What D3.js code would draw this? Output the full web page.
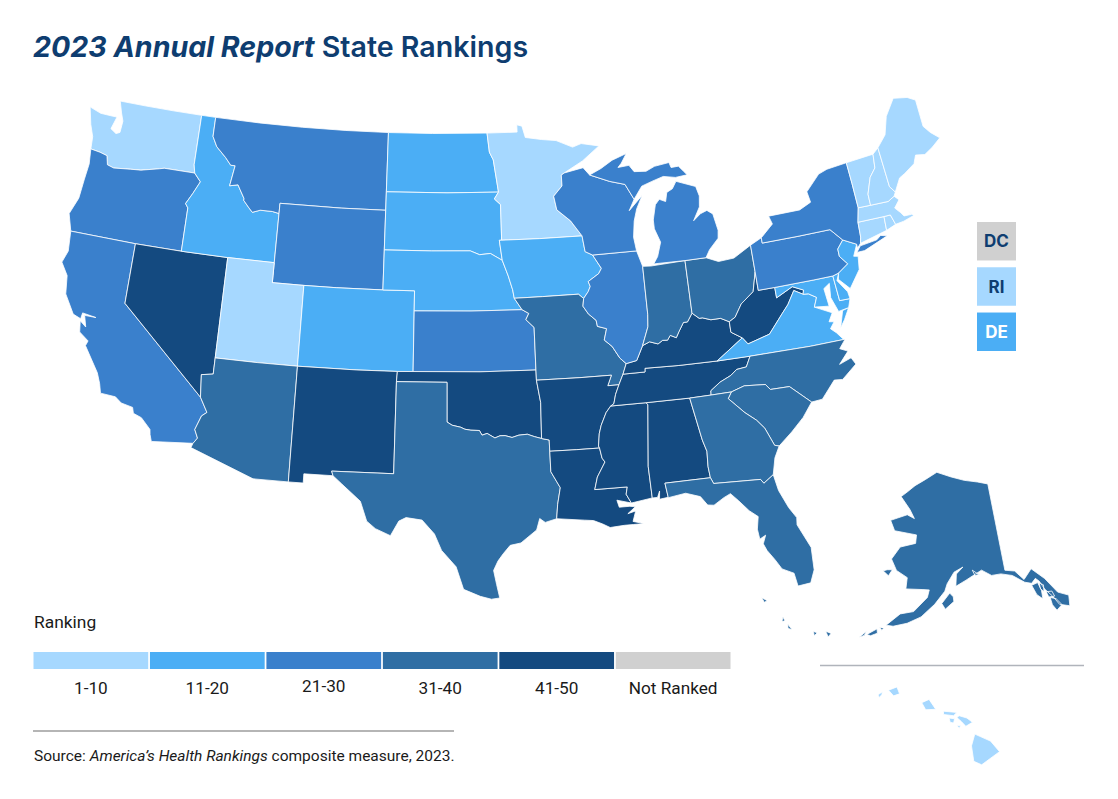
<!DOCTYPE html>
<html><head><meta charset="utf-8">
<script src="https://cdnjs.cloudflare.com/ajax/libs/d3/7.8.5/d3.min.js"></script>
<style>html,body{margin:0;background:#fff}svg{display:block}</style></head>
<body><svg id="c" width="1118" height="799"></svg>
<script>
// Rank groups
const band1 = ["WA","UT","MN","ME","VT","NH","MA","CT","HI","RI"];
const band2 = ["ID","ND","SD","NE","CO","IA","NJ","VA","MD","DE"];
const band3 = ["OR","CA","MT","WY","KS","WI","IL","MI","NY","PA"];
const band4 = ["AZ","TX","MO","IN","OH","NC","SC","GA","FL","AK"];
const band5 = ["NV","NM","OK","AR","LA","MS","AL","TN","KY","WV"];
const legendLabels = ["1-10","11-20","21-30","31-40","41-50","Not Ranked"];
const legendColors = ["#a6d8ff","#4baef5","#3a80cc","#2f6ea4","#144a80","#d0d0d0"];
const sideBoxes = ["DC","RI","DE"];
const sideBands = ["Not Ranked","1-10","11-20"];

// State outlines: lon,lat rings
const WA=[[-124.7,48.38,-123.9,48.17,-123.1,48.15,-122.75,48.15,-123,47.5,-122.6,47.3,-122.35,47.4,-122.3,48,-122.5,48.4,-122.75,49,-121,49,-119,49,-117.03,49,-117.04,46.42,-116.92,46,-118.98,46,-119.3,45.93,-120.5,45.7,-121.2,45.65,-122.3,45.55,-122.75,45.65,-122.9,46.1,-123.4,46.2,-124.05,46.27,-124.1,46.9,-124.4,47.5]];
const OR=[[-124.05,46.27,-123.4,46.2,-122.9,46.1,-122.75,45.65,-122.3,45.55,-121.2,45.65,-120.5,45.7,-119.3,45.93,-118.98,46,-116.92,46,-116.46,45.6,-116.85,44.95,-117.22,44.4,-117.03,44.2,-117.03,42,-120,42,-124.21,42,-124.55,42.84,-124.15,43.7,-124.05,44.7,-123.95,45.5]];
const CA=[[-124.21,42,-120,42,-120,39,-114.63,35,-114.14,34.3,-114.43,34.1,-114.72,33.4,-114.5,33,-114.72,32.72,-117.12,32.53,-117.25,32.85,-117.3,33.1,-117.9,33.6,-118.4,33.75,-118.5,34.03,-119.2,34.15,-119.6,34.4,-120.5,34.45,-120.65,34.9,-120.9,35.4,-121.9,36.6,-121.8,36.85,-122.4,37.2,-122.5,37.75,-122.1,37.5,-122.3,38.05,-121.6,38.05,-122.45,38.15,-122.5,37.85,-123,38,-123.7,38.9,-123.85,39.8,-124.35,40.4,-124.1,41]];
const NV=[[-120,42,-117.03,42,-114.04,42,-114.05,37,-114.05,36.2,-114.75,36.1,-114.63,35,-120,39]];
const ID=[[-117.03,49,-116.05,49,-116.05,48,-115.7,47.5,-115,47,-114.6,46.65,-114.3,46.65,-114.5,45.6,-113.95,45.7,-113.8,45.5,-113.45,45.05,-113.45,44.95,-113.05,44.6,-112.8,44.4,-112.3,44.55,-111.5,44.55,-111.05,44.48,-111.05,42,-114.04,42,-117.03,42,-117.03,44.2,-117.22,44.4,-116.85,44.95,-116.46,45.6,-116.92,46,-117.04,46.42]];
const MT=[[-116.05,49,-113,49,-110,49,-107,49,-104.05,49,-104.05,47,-104.05,45,-107,45,-111.05,45,-111.05,44.48,-111.5,44.55,-112.3,44.55,-112.8,44.4,-113.05,44.6,-113.45,44.95,-113.45,45.05,-113.8,45.5,-113.95,45.7,-114.5,45.6,-114.3,46.65,-114.6,46.65,-115,47,-115.7,47.5,-116.05,48]];
const WY=[[-111.05,45,-107,45,-104.05,45,-104.05,43,-104.05,41,-107,41,-109.05,41,-111.05,41,-111.05,42]];
const UT=[[-114.04,42,-111.05,42,-111.05,41,-109.05,41,-109.05,37,-111.5,37,-114.05,37]];
const CO=[[-109.05,41,-107,41,-104.05,41,-102.05,41,-102.05,40,-102.05,37,-103,37,-105.5,37,-109.05,37]];
const AZ=[[-114.05,37,-111.5,37,-109.05,37,-109.05,31.33,-111.07,31.33,-114.81,32.5,-114.72,32.72,-114.5,33,-114.72,33.4,-114.43,34.1,-114.14,34.3,-114.63,35,-114.75,36.1,-114.05,36.2]];
const NM=[[-109.05,37,-105.5,37,-103,37,-103.04,36.5,-103.06,32,-106.62,32,-106.53,31.78,-108.2,31.78,-108.2,31.33,-109.05,31.33]];
const ND=[[-104.05,49,-101,49,-97.23,49,-97.1,48,-96.85,47.6,-96.56,45.94,-100,45.94,-104.05,45.94]];
const SD=[[-104.05,45.94,-100,45.94,-96.56,45.94,-96.85,45.6,-96.45,45.3,-96.45,43.5,-96.6,43.5,-96.45,42.49,-97.2,42.85,-97.9,42.8,-98.5,43,-101,43,-104.05,43]];
const NE=[[-104.05,43,-101,43,-98.5,43,-97.9,42.8,-97.2,42.85,-96.45,42.49,-96.1,41.7,-95.85,41,-95.77,40.58,-95.31,40,-98.5,40,-102.05,40,-102.05,41,-104.05,41]];
const KS=[[-102.05,40,-98.5,40,-95.31,40,-94.9,39.8,-95.1,39.5,-94.61,39.1,-94.62,37,-98,37,-102.05,37]];
const OK=[[-103,37,-98,37,-94.62,37,-94.62,36.5,-94.43,35.4,-94.48,33.64,-94.9,33.75,-95.3,33.88,-95.8,33.85,-96.2,33.75,-96.6,33.85,-96.9,33.85,-97.2,33.75,-97.65,33.98,-97.95,33.9,-98.1,34.13,-98.6,34.15,-98.95,34.2,-99.2,34.3,-99.7,34.4,-100,34.56,-100,36.5,-103.04,36.5]];
const TX=[[-106.62,32,-103.06,32,-103.04,36.5,-100,36.5,-100,34.56,-99.7,34.4,-99.2,34.3,-98.95,34.2,-98.6,34.15,-98.1,34.13,-97.95,33.9,-97.65,33.98,-97.2,33.75,-96.9,33.85,-96.6,33.85,-96.2,33.75,-95.8,33.85,-95.3,33.88,-94.9,33.75,-94.48,33.64,-94.04,33.55,-94.04,33,-94.04,32,-93.55,31.2,-93.75,30.4,-93.85,29.7,-94.5,29.55,-94.8,29.75,-95,29.2,-95.9,28.6,-96.5,28.5,-96.9,28.1,-97.2,27.75,-97.45,27.3,-97.3,26.6,-97.15,25.95,-97.6,25.9,-98.2,26.05,-99.1,26.4,-99.5,27.5,-100.3,28.3,-100.7,29.1,-101.4,29.77,-102.3,29.88,-102.7,29.7,-103.15,28.98,-104,29.3,-104.5,29.65,-104.9,30.6,-106,31.4,-106.53,31.78]];
const MN=[[-97.23,49,-95.15,49,-95.15,49.38,-94.8,49.3,-94.6,48.7,-93.5,48.55,-92.5,48.45,-91.4,48.05,-90.8,48.2,-89.6,48,-90.8,47.3,-92.1,46.75,-92.3,46.65,-92.3,46.1,-92.9,45.6,-92.75,44.9,-91.9,44.3,-91.22,43.5,-94,43.5,-96.45,43.5,-96.45,45.3,-96.85,45.6,-96.56,45.94,-96.85,47.6,-97.1,48]];
const IA=[[-96.6,43.5,-96.45,43.5,-94,43.5,-91.22,43.5,-91.1,42.7,-90.64,42.5,-90.15,41.8,-90.35,41.55,-91.05,41.2,-90.95,40.95,-91.1,40.7,-91.42,40.38,-91.73,40.61,-94,40.6,-95.77,40.58,-95.85,41,-96.1,41.7,-96.45,42.49]];
const MO=[[-95.77,40.58,-94,40.6,-91.73,40.61,-91.42,40.38,-91.5,40,-91.2,39.6,-90.75,39.25,-90.7,38.95,-90.15,38.8,-90.35,38.25,-89.9,37.9,-89.5,37.3,-89.15,37,-89.4,36.5,-89.7,36,-90.37,36,-90.1,36.5,-92,36.5,-94.62,36.5,-94.62,37,-94.61,39.1,-95.1,39.5,-94.9,39.8,-95.31,40]];
const AR=[[-94.62,36.5,-92,36.5,-90.1,36.5,-90.37,36,-89.7,36,-89.95,35.55,-90.1,35.1,-90.3,35,-90.6,34.7,-90.95,34.1,-91.1,33.7,-91.2,33.1,-91.15,33,-92.5,33,-94.04,33,-94.04,33.55,-94.48,33.64,-94.43,35.4]];
const LA=[[-94.04,33,-92.5,33,-91.15,33,-91.05,32.5,-90.9,32.3,-91.4,31.6,-91.6,31,-89.75,31,-89.85,30.65,-89.6,30.2,-90.4,30.4,-90.3,30.05,-89.7,30.05,-89.4,30,-89.85,29.7,-89.4,29.8,-89.6,29.3,-89,29.15,-89.6,29.15,-90.1,29.15,-90.9,29.1,-91.3,29.3,-91.8,29.5,-92.3,29.55,-93.85,29.7,-93.75,30.4,-93.55,31.2,-94.04,32]];
const MS=[[-91.15,33,-91.2,33.1,-91.1,33.7,-90.95,34.1,-90.6,34.7,-90.3,35,-88.2,35,-88.1,34.9,-88.45,31.9,-88.4,30.35,-89.6,30.2,-89.85,30.65,-89.75,31,-91.6,31,-91.4,31.6,-90.9,32.3,-91.05,32.5]];
const AL=[[-88.2,35,-85.6,34.98,-85.18,32.87,-85,32.3,-85.05,31.55,-85,31,-87.6,31,-87.5,30.3,-88,30.25,-87.95,30.65,-88.1,30.35,-88.4,30.35,-88.45,31.9,-88.1,34.9]];
const TN=[[-90.3,35,-90.1,35.1,-89.95,35.55,-89.7,36,-89.4,36.5,-88.07,36.5,-88.05,36.68,-86,36.63,-83.68,36.6,-81.68,36.59,-82,36.1,-82.6,36.05,-83,35.8,-83.7,35.55,-84.3,35.2,-84.32,34.99,-85.6,34.98,-88.2,35]];
const KY=[[-89.4,36.5,-89.15,37,-88.5,37.1,-88.05,37.8,-87.6,37.95,-87.1,37.8,-86.8,37.95,-86.5,37.93,-86.3,38.15,-85.95,38,-85.75,38.27,-85.4,38.7,-85.15,38.7,-84.8,39.1,-84.4,38.8,-84.2,38.8,-83.7,38.65,-83.1,38.65,-82.6,38.42,-82.6,37.9,-81.97,37.54,-83.68,36.6,-86,36.63,-88.05,36.68,-88.07,36.5]];
const IL=[[-91.42,40.38,-91.1,40.7,-90.95,40.95,-91.05,41.2,-90.35,41.55,-90.15,41.8,-90.64,42.5,-87.8,42.5,-87.52,41.7,-87.53,39.3,-87.6,38.7,-88.05,37.8,-88.5,37.1,-89.15,37,-89.5,37.3,-89.9,37.9,-90.35,38.25,-90.15,38.8,-90.7,38.95,-90.75,39.25,-91.2,39.6,-91.5,40]];
const IN=[[-87.52,41.7,-87,41.67,-84.8,41.73,-84.8,39.1,-85.15,38.7,-85.4,38.7,-85.75,38.27,-85.95,38,-86.3,38.15,-86.5,37.93,-86.8,37.95,-87.1,37.8,-87.6,37.95,-88.05,37.8,-87.6,38.7,-87.53,39.3]];
const OH=[[-84.8,41.73,-83.45,41.73,-82.7,41.45,-81.7,41.5,-80.52,42,-80.52,40.64,-80.85,39.7,-81.7,39.2,-82.2,38.6,-82.6,38.42,-83.1,38.65,-83.7,38.65,-84.2,38.8,-84.4,38.8,-84.8,39.1]];
const WV=[[-80.52,40.64,-80.52,39.72,-79.48,39.72,-79.48,39.2,-78.4,39.6,-77.75,39.33,-77.83,39.13,-78.35,39.4,-78.87,38.77,-79.3,38.4,-80.3,37.5,-81.68,37.2,-81.97,37.54,-82.6,37.9,-82.6,38.42,-82.2,38.6,-81.7,39.2,-80.85,39.7]];
const VA=[[-83.68,36.6,-81.97,37.54,-81.68,37.2,-80.3,37.5,-79.3,38.4,-78.87,38.77,-78.35,39.4,-77.83,39.13,-77.5,39.1,-77.05,38.85,-77.3,38.4,-76.3,37.95,-76.6,37.55,-76.3,37.5,-76.6,37.2,-76.3,36.95,-75.95,36.55,-78,36.55,-81.68,36.59],[-75.98,37.15,-75.65,37.5,-75.25,38.03,-75.65,37.95]];
const NC=[[-84.32,34.99,-84.3,35.2,-83.7,35.55,-83,35.8,-82.6,36.05,-82,36.1,-81.68,36.59,-78,36.55,-75.87,36.55,-76.3,36.15,-75.85,35.95,-76.5,35.4,-75.75,35.6,-75.55,35.25,-76.5,34.65,-77,34.7,-77.9,33.9,-78.55,33.86,-79.67,34.8,-80.8,34.82,-81.05,35.1,-82.3,35.2,-83.11,35]];
const SC=[[-83.11,35,-82.3,35.2,-81.05,35.1,-80.8,34.82,-79.67,34.8,-78.55,33.86,-79.2,33.2,-80,32.6,-80.85,32.03,-81.1,32.1,-81.5,33,-81.9,33.45,-82.5,33.9,-83.35,34.7]];
const GA=[[-85.6,34.98,-84.32,34.99,-83.11,35,-83.35,34.7,-82.5,33.9,-81.9,33.45,-81.5,33,-81.1,32.1,-80.85,32.03,-81.2,31.5,-81.45,30.7,-82.05,30.36,-82.2,30.57,-84.86,30.7,-85,31,-85.05,31.55,-85,32.3,-85.18,32.87]];
const FL=[[-87.6,31,-85,31,-84.86,30.7,-82.2,30.57,-82.05,30.36,-81.45,30.7,-81.3,29.9,-80.9,29,-80.55,28.45,-80.6,28.1,-80.05,26.9,-80.1,25.8,-80.4,25.2,-81.1,25.15,-81.2,25.8,-81.8,26.1,-82.1,26.6,-82.45,27.1,-82.6,27.45,-82.4,27.85,-82.75,27.7,-82.8,28.2,-82.65,28.8,-83.1,29.15,-83.6,29.7,-84,30.1,-84.4,29.95,-85,29.65,-85.35,29.7,-85.7,30.15,-86.5,30.4,-87.5,30.28]];
const MD=[[-79.48,39.72,-77,39.72,-75.79,39.72,-75.7,38.46,-75.05,38.45,-75.25,38.03,-75.9,37.95,-76.2,38.7,-76.1,39.4,-76.5,39.2,-76.4,38.3,-77.3,38.4,-77.05,38.85,-77.5,39.1,-77.83,39.13,-77.75,39.33,-78.4,39.6,-79.48,39.2]];
const DE=[[-75.79,39.72,-75.4,39.8,-75.6,39.45,-75.1,38.8,-75.05,38.45,-75.7,38.46]];
const PA=[[-80.52,42,-79.76,42.27,-79.76,42,-77.5,42,-75.35,42,-74.7,41.36,-75.13,40.97,-75.13,40.6,-74.72,40.15,-75.4,39.8,-75.79,39.72,-77,39.72,-79.48,39.72,-80.52,39.72,-80.52,40.64]];
const NJ=[[-74.7,41.36,-73.9,41,-74.25,40.45,-73.98,40.4,-74.1,39.75,-74.9,38.93,-75.5,39.5,-75.4,39.8,-74.72,40.15,-75.13,40.6,-75.13,40.97]];
const NY=[[-79.76,42,-79.76,42.27,-78.9,42.85,-79.05,43.27,-77,43.28,-76.2,43.55,-76.3,44.1,-75.3,44.85,-74.7,45,-73.35,45.1,-73.3,44,-73.27,42.75,-73.5,42.05,-73.55,41.3,-73.65,41,-73.9,40.8,-73.9,41,-74.7,41.36,-75.35,42,-77.5,42],[-74,40.6,-73.7,40.88,-72.6,40.98,-72.3,41.15,-71.9,41.05,-73.5,40.6]];
const CT=[[-73.5,42.05,-71.8,42.02,-71.85,41.32,-73.65,41,-73.55,41.3]];
const RI=[[-71.8,42.02,-71.38,42.02,-71.2,41.5,-71.85,41.32]];
const MA=[[-73.5,42.05,-73.27,42.75,-72.46,42.73,-71.3,42.7,-70.85,42.88,-70.6,42.65,-71,42.3,-70.7,42,-70.55,41.8,-70.05,41.78,-70.25,42.05,-69.95,41.7,-70.65,41.55,-71.2,41.5,-71.38,42.02,-71.8,42.02]];
const VT=[[-73.35,45.1,-71.5,45.2,-71.6,44.5,-72.05,44.1,-72.45,43.3,-72.46,42.73,-73.27,42.75,-73.3,44]];
const NH=[[-71.5,45.2,-71.08,45.45,-70.98,43.4,-70.7,43.07,-70.85,42.88,-71.3,42.7,-72.46,42.73,-72.45,43.3,-72.05,44.1,-71.6,44.5]];
const ME=[[-71.08,45.45,-70.4,46,-70,46.9,-69.23,47.7,-68.3,47.55,-67.8,47.3,-67.8,45.9,-67.45,45.5,-66.95,45.1,-67.6,44.75,-68.2,44.5,-68.8,44.6,-69.05,44.2,-69.8,43.85,-70.2,43.7,-70.7,43.07,-70.98,43.4]];
const WI=[[-92.3,46.65,-92.1,46.75,-90.8,46.95,-90.4,46.55,-89.1,46.13,-88.1,45.9,-87.6,45.1,-88,44.55,-87.05,45.25,-87.5,44.6,-87.75,44,-87.9,43.2,-87.8,42.5,-90.64,42.5,-91.1,42.7,-91.22,43.5,-91.9,44.3,-92.75,44.9,-92.9,45.6,-92.3,46.1]];
const MI=[[-86.8,41.76,-84.8,41.73,-83.45,41.73,-83.15,42.1,-82.5,42.6,-82.42,43,-82.6,43.85,-82.95,44.07,-83.4,43.95,-83.9,43.65,-83.4,44.3,-83.3,44.85,-83.45,45.35,-84.7,45.75,-85,45.4,-85.4,45.25,-85.55,44.8,-85.95,44.95,-86.25,44.7,-86.5,43.95,-86.5,43.5,-86.2,42.8,-86.5,42.1],[-90.4,46.55,-89.6,46.83,-88.8,47.2,-87.8,47.47,-88.2,47,-88.45,46.8,-87.7,46.85,-87.4,46.5,-86.6,46.45,-86,46.65,-85,46.75,-84.9,46.48,-84.4,46.5,-84.1,46.2,-83.9,46,-84.7,45.95,-85.5,46.08,-86.3,45.9,-87,45.72,-87.6,45.1,-88.1,45.9,-89.1,46.13]];
const AK=[[-141,69.65,-141,60.3,-139,60,-137.5,58.9,-135.5,59.8,-133.4,58.4,-131.8,56.6,-130,55.9,-130.5,54.8,-132.2,55.3,-133,56.4,-134,57.3,-134.6,58.3,-135.2,58.7,-136.2,58.3,-137.5,58.6,-139.7,59.6,-142,60,-144,60,-146,60.7,-148,60.2,-149.5,59.8,-151.7,59.2,-151.5,60.5,-150,61.2,-152,60.7,-153.5,59.5,-154,58.7,-156,57.3,-158.5,55.9,-161,55.1,-163.5,54.6,-164.8,54.6,-162.5,56,-160,56.4,-157.5,58,-157.2,58.8,-158.5,58.8,-162,58.7,-162,59.9,-164.5,60.5,-166,61.6,-164.5,63,-161,63.6,-161,64.5,-166.5,64.6,-168,65.6,-164,66.5,-162,66.2,-163.5,67.1,-166.5,68.3,-165,68.9,-163,69.7,-160,70.5,-156.6,71.35,-152,70.85,-148,70.4,-144,70.05],
 [-133.5,56.3,-132.5,56,-131.8,55.2,-133,54.8,-133.5,55.5],[-136.3,58.1,-135,58.2,-134.7,57.3,-134.9,56.4,-135.8,57],[-134.7,58.1,-134,57.8,-134.3,57.1,-134.8,57.5],[-133.9,57,-132.8,56.9,-132.6,56.3,-133.7,56.4],
 [-154.6,57.4,-153.9,56.8,-152.2,57.6,-152.3,58.1,-153,58.5],[-167.3,60.2,-166,59.8,-165.4,60.5,-166.5,60.4],[-148,60.8,-147,60.4,-146.5,60.3,-147.5,60.2],
 [172.4,53,173.5,53,173.2,52.7],[177.2,52.2,177.8,51.9,177.4,51.7],[178.5,51.7,179.5,51.35,178.8,51.3],[-177,52,-176.3,52,-176.6,51.6],[-175,52.45,-174,52.4,-174.3,51.95],[-169.1,52.8,-168.1,53.55,-168.3,53.1],[-167.9,53.25,-166.3,54.05,-166.1,53.6,-167.2,53.2],[-165.9,54.25,-165.1,54.25,-165.4,54]];
const HI=[[-155.9,20.25,-155.2,19.95,-154.8,19.5,-155.6,18.95,-155.95,19.1,-156.05,19.75],[-156.7,20.95,-156.6,21.03,-156.25,20.93,-156,20.75,-156.3,20.58,-156.5,20.78],[-157.3,21.22,-156.7,21.17,-156.85,21.03,-157.3,21.08],[-157.05,20.93,-156.8,20.9,-156.85,20.72,-157,20.75],[-158.28,21.58,-157.95,21.72,-157.65,21.3,-158.1,21.28],[-159.78,22.1,-159.4,22.24,-159.28,21.95,-159.55,21.86],[-160.25,21.9,-160.05,22.03,-160.08,21.9,-160.2,21.78],[-156.7,20.6,-156.52,20.6,-156.6,20.5]];

const stateCodes = ["WA","OR","CA","NV","ID","MT","WY","UT","CO","AZ","NM","ND","SD","NE","KS","OK","TX","MN","IA","MO","AR","LA","MS","AL","TN","KY","IL","IN","OH","WV","VA","NC","SC","GA","FL","MD","DE","PA","NJ","NY","CT","RI","MA","VT","NH","ME","WI","MI"];
const stateRings = [WA,OR,CA,NV,ID,MT,WY,UT,CO,AZ,NM,ND,SD,NE,KS,OK,TX,MN,IA,MO,AR,LA,MS,AL,TN,KY,IL,IN,OH,WV,VA,NC,SC,GA,FL,MD,DE,PA,NJ,NY,CT,RI,MA,VT,NH,ME,WI,MI];

const bandOf = c => [band1,band2,band3,band4,band5].findIndex(b=>b.includes(c));
const color = d3.scaleOrdinal(legendLabels, legendColors);

function toFeature(rings){
  const polys = rings.map(flat=>{
    const ring=[]; for(let i=0;i<flat.length;i+=2) ring.push([flat[i],flat[i+1]]);
    ring.push(ring[0]);
    if(d3.geoArea({type:"Polygon",coordinates:[ring]})>2*Math.PI) ring.reverse();
    return [ring];
  });
  return {type:"MultiPolygon",coordinates:polys};
}

const svg = d3.select("#c");
const lower = d3.geoConicEqualArea().rotate([100,0]).center([0,36.5]).parallels([30,30]).scale(1177).translate([447,382.3]).precision(0);
const alaska = d3.geoConicEqualArea().rotate([154,0]).center([-2,58.5]).parallels([55,65]).scale(540).translate([935,593]).precision(0);
const hawaii = d3.geoConicEqualArea().rotate([157,0]).center([-3,19.9]).parallels([8,18]).scale(1360).translate([883,742]).precision(0);

function draw(code,rings,proj){
  svg.append("path").datum(toFeature(rings)).attr("d",d3.geoPath(proj))
    .attr("fill",color(legendLabels[bandOf(code)])).attr("stroke","#fff").attr("stroke-width",0.8).attr("stroke-linejoin","round");
}
stateCodes.forEach((c,i)=>draw(c,stateRings[i],lower));
draw("AK",AK,alaska);
draw("HI",HI,hawaii);

// Title
const FONT="Inter, 'Open Sans', sans-serif", BODY="Roboto, sans-serif";
const t=svg.append("text").attr("x",33).attr("y",57).attr("font-family",FONT).attr("font-size",28.6).attr("fill","#0e3d70").attr("font-weight",700);
t.append("tspan").attr("font-style","italic").text("2023 Annual Report");
t.append("tspan").attr("font-weight",600).text(" State Rankings");

// Side boxes
const boxY=d3.scaleBand().domain(sideBoxes).range([222,351]).paddingInner(0.15);
sideBoxes.forEach((b,i)=>{
  svg.append("rect").attr("x",977).attr("y",boxY(b)).attr("width",39).attr("height",boxY.bandwidth()).attr("fill",color(sideBands[i]));
  svg.append("text").attr("x",996.5).attr("y",boxY(b)+boxY.bandwidth()/2+6).attr("text-anchor","middle").attr("font-family",FONT).attr("font-weight",700).attr("font-size",17).attr("fill",b==="DE"?"#fff":"#0e3d70").text(b);
});

// Legend
const lx=d3.scaleBand().domain(legendLabels).range([33.5,730.5]).paddingInner(0.015);
svg.append("text").attr("x",34).attr("y",628).attr("font-family",BODY).attr("font-size",17.4).attr("fill","#1a1a1a").text("Ranking");
legendLabels.forEach(l=>{
  svg.append("rect").attr("x",lx(l)).attr("y",652).attr("width",lx.bandwidth()).attr("height",17).attr("fill",color(l));
  svg.append("text").attr("x",lx(l)+lx.bandwidth()/2).attr("y",l==="21-30"?692:694).attr("text-anchor","middle").attr("font-family",BODY).attr("font-size",17.2).attr("fill","#1a1a1a").text(l);
});
svg.append("line").attr("x1",33).attr("x2",454).attr("y1",731).attr("y2",731).attr("stroke","#b5b5b5").attr("stroke-width",2);
svg.append("line").attr("x1",820).attr("x2",1084).attr("y1",665.5).attr("y2",665.5).attr("stroke","#b0b4bb").attr("stroke-width",1.5);
const s=svg.append("text").attr("x",34).attr("y",761).attr("font-family",BODY).attr("font-size",15.5).attr("fill","#1a1a1a");
s.append("tspan").text("Source: ");
s.append("tspan").attr("font-style","italic").text("America’s Health Rankings");
s.append("tspan").text(" composite measure, 2023.");
</script></body></html>
